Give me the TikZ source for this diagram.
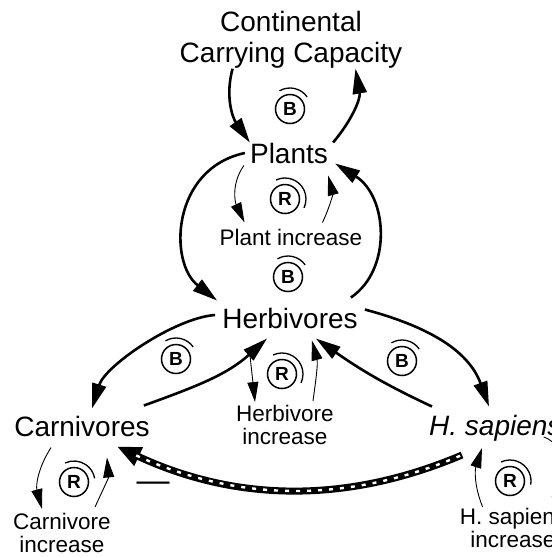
\documentclass[tikz,border=0pt]{standalone}
\usepackage{fontspec}
\setmainfont{Liberation Sans}
\usetikzlibrary{arrows.meta}

\begin{document}
\begin{tikzpicture}[x=1pt,y=1pt]
\tikzset{
	big/.style={inner sep=0pt, font=\fontsize{28}{31}\selectfont},
	small/.style={inner sep=0pt, font=\fontsize{22.5}{23}\selectfont},
	loopmark/.style={circle, draw=black, line width=1.5pt, inner sep=0pt, minimum size=29pt, font=\fontsize{19}{19}\selectfont\bfseries},
	looparc/.style={line width=1.3pt},
	flow/.style={line width=2.6pt, -{Triangle[length=25pt,width=14pt]}},
	infl/.style={line width=0.9pt, -{Triangle[length=20pt,width=11pt]}},
	stripe/.style={line width=7pt, -{Triangle[length=24pt,width=19pt]},
		postaction={draw=white, line width=2.4pt, dash pattern=on 4pt off 7pt, -, shorten >=18pt, shorten <=2pt}}
}
\useasboundingbox (0,0) rectangle (552,-558);

% variables
\node[big, align=center] (cap) at(291,-40) {Continental\\Carrying Capacity};
\node[big, anchor=base] (plants) at(289,-163) {Plants};
\node[big, anchor=base] (herb) at(290,-328) {Herbivores};
\node[big, anchor=base] (carn) at(82,-436) {Carnivores};
\node[big, anchor=base west, font=\fontsize{28}{31}\selectfont\itshape] (hsap) at(429,-435) {H. sapiens};

% increase labels
\node[small, anchor=base] (pl_inc) at(291,-245) {Plant increase};
\node[small, align=center] (hb_inc) at(285,-425) {Herbivore\\increase};
\node[small, align=center] (cn_inc) at(62,-533) {Carnivore\\increase};
\node[small, align=center] (hs_inc) at(513,-528) {H. sapiens\\increase};

% loop marks
\node[loopmark] (b_cap) at(290,-109) {B};
\node[loopmark] (r_pl) at(285,-199) {R};
\node[loopmark] (b_ph) at(288,-277) {B};
\node[loopmark] (b_hc) at(176,-359) {B};
\node[loopmark] (r_hb) at(282,-374) {R};
\node[loopmark] (b_hs) at(402,-361) {B};
\node[loopmark] (r_cn) at(74,-482) {R};
\node[loopmark] (r_hs) at(510,-481) {R};

\draw[looparc] ([shift={(120:21pt)}]b_cap.center) arc[start angle=120, end angle=35, radius=21pt];
\draw[looparc] ([shift={(115:21pt)}]r_pl.center) arc[start angle=115, end angle=-25, radius=21pt];
\draw[looparc] ([shift={(120:21pt)}]b_ph.center) arc[start angle=120, end angle=35, radius=21pt];
\draw[looparc] ([shift={(120:21pt)}]b_hc.center) arc[start angle=120, end angle=35, radius=21pt];
\draw[looparc] ([shift={(115:21pt)}]r_hb.center) arc[start angle=115, end angle=-25, radius=21pt];
\draw[looparc] ([shift={(120:21pt)}]b_hs.center) arc[start angle=120, end angle=35, radius=21pt];
\draw[looparc] ([shift={(115:21pt)}]r_cn.center) arc[start angle=115, end angle=10, radius=21pt];
\draw[looparc] ([shift={(115:21pt)}]r_hs.center) arc[start angle=115, end angle=-10, radius=21pt];

% capacity loop
\draw[flow] ([xshift=53pt]cap.south west) to[out=-105,in=125] (plants.north west);
\draw[flow] ([xshift=5pt]plants.north east) to[out=50,in=-80] ([xshift=-47pt]cap.south east);

% plants -- herbivores
\draw[flow] ([xshift=-5pt]plants.west) to[out=192,in=142,out distance=75pt,in distance=62pt] ([xshift=-5pt,yshift=7pt]herb.north west);
\draw[flow] ([xshift=-7pt,yshift=10pt]herb.north east) to[out=34,in=-32,out distance=50pt,in distance=62pt] ([xshift=7pt]plants.south east);

% herbivores -- carnivores
\draw[flow] ([xshift=-7pt,yshift=3pt]herb.west) to[out=184,in=73,out distance=40pt,in distance=45pt] ([xshift=10pt,yshift=7pt]carn.north);
\draw[flow] ([xshift=-6pt,yshift=10pt]carn.north east) to[out=20,in=222] ([xshift=45pt,yshift=-10pt]herb.south west);

% herbivores -- H. sapiens
\draw[flow] ([xshift=7pt,yshift=-2pt]herb.north east) to[out=-15,in=110] ([xshift=60pt,yshift=8pt]hsap.north west);
\draw[flow] ([xshift=3pt,yshift=8pt]hsap.north west) to[out=155,in=-35] ([xshift=-42pt,yshift=-10pt]herb.south east);

% H. sapiens -- carnivores
\draw[stripe] ([xshift=33pt,yshift=-14pt]hsap.south west) to[out=203,in=-25,looseness=0.95] ([xshift=-33pt,yshift=-10pt]carn.south east);
\node[font=\fontsize{33}{33}\selectfont, anchor=base, inner sep=0pt] (minus) at(153,-491) {—};

% increase loops
\draw[infl] ([xshift=-6pt,yshift=-2pt]plants.south west) to[out=235,in=115] ([xshift=25pt,yshift=6pt]pl_inc.north west);
\draw[infl] ([xshift=-40pt,yshift=6pt]pl_inc.north east) to[out=65,in=-75] ([yshift=-12pt]plants.south east);
\draw[infl] ([xshift=28pt,yshift=-28pt]herb.south west) -- ([xshift=19pt,yshift=3pt]hb_inc.north west);
\draw[infl] ([xshift=-21pt,yshift=4pt]hb_inc.north east) to[out=82,in=-75] ([xshift=-46pt,yshift=-12pt]herb.south east);
\draw[infl] ([xshift=37pt,yshift=-11pt]carn.south west) to[out=237,in=105] ([xshift=29pt,yshift=4pt]cn_inc.north west);
\draw[infl] ([xshift=-16pt,yshift=6pt]cn_inc.north east) to[out=65,in=-85] ([xshift=25pt,yshift=-21pt]carn.south);
\draw[infl] ([xshift=23pt,yshift=1pt]hs_inc.north west) to[out=112,in=-108] ([xshift=53pt,yshift=-7pt]hsap.south west);
\draw[infl] ([xshift=-18pt,yshift=4pt]hsap.south east) to[out=-20,in=90] ([xshift=-9pt,yshift=-8pt]hs_inc.north east);

\end{tikzpicture}
\end{document}
